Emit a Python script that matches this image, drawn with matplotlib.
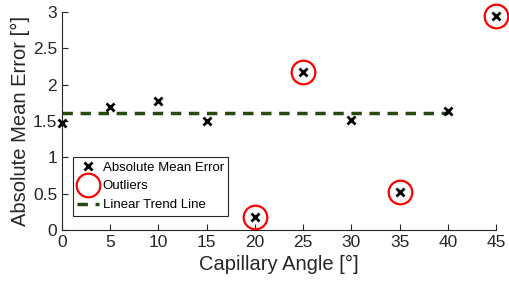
import numpy as np
import matplotlib.pyplot as plt

plt.rcParams['font.family'] = ['Liberation Sans', 'DejaVu Sans']

# data
angles = [0, 5, 10, 15, 20, 25, 30, 35, 40, 45]
errors = [1.47, 1.69, 1.78, 1.50, 0.18, 2.17, 1.51, 0.52, 1.64, 2.95]
outlier_angles = [20, 25, 35, 45]
outlier_errors = [0.18, 2.17, 0.52, 2.95]
trend_x = [0, 40]
trend_y = [1.61, 1.61]

fig = plt.figure(figsize=(5.1, 2.93), dpi=100)
ax = fig.add_axes([0.1216, 0.215, 0.851, 0.744])

ax.plot(angles, errors, 'x', color='black', markersize=6, markeredgewidth=2,
        label='Absolute Mean Error', clip_on=False, zorder=3)
ax.plot(outlier_angles, outlier_errors, 'o', markerfacecolor='none',
        markeredgecolor='red', markersize=17, markeredgewidth=1.6,
        label='Outliers', clip_on=False, zorder=2)
ax.plot(trend_x, trend_y, '--', color='#284a12', linewidth=2.5,
        dashes=(3, 2.2), label='Linear Trend Line', zorder=1)

ax.set_xlim(0, 45)
ax.set_ylim(0, 3)
ax.set_xticks(np.arange(0, 46, 5))
ax.set_yticks(np.arange(0, 3.01, 0.5))
ax.set_yticklabels(['0', '0.5', '1', '1.5', '2', '2.5', '3'])
ax.spines['top'].set_visible(False)
ax.spines['right'].set_visible(False)
for s in ('left', 'bottom'):
    ax.spines[s].set_color('#262626')
ax.tick_params(direction='in', labelsize=12.5, length=4, width=0.8,
               colors='#262626')
ax.set_xlabel('Capillary Angle [°]', fontsize=14.5, color='#262626')
ax.set_ylabel('Absolute Mean Error [°]', fontsize=14.5, labelpad=2,
              color='#262626')

leg = ax.legend(loc='lower left', bbox_to_anchor=(0.025, 0.065), fontsize=9.5,
                fancybox=False, edgecolor='#262626', framealpha=1,
                handlelength=1.6, handletextpad=0.3, borderpad=0.35,
                labelspacing=0.5, borderaxespad=0)
leg.get_frame().set_linewidth(0.8)

fig.savefig('out.png', dpi=100)
